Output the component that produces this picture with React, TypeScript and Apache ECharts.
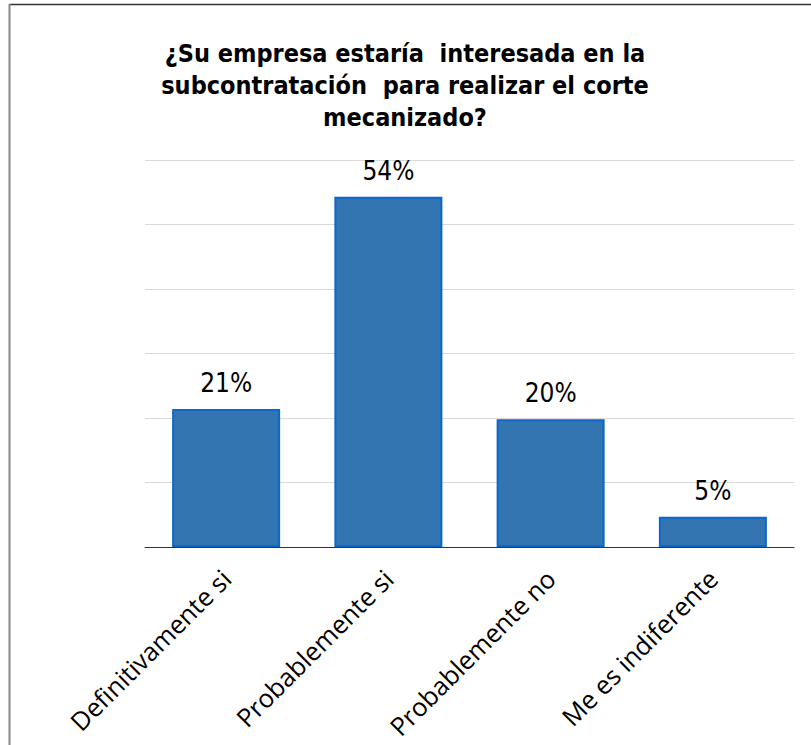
import React, { useEffect, useRef } from "react";
import * as echarts from "echarts";

const titleLines = [
  "¿Su empresa estaría  interesada en la",
  "subcontratación  para realizar el corte",
  "mecanizado?",
];
const categories = [
  "Definitivamente si",
  "Probablemente si",
  "Probablemente no",
  "Me es indiferente",
];
const values = [0.214, 0.543, 0.198, 0.047];
const yMin = 0;
const yMax = 0.6;
const yStep = 0.1;

export default function App() {
  const ref = useRef<HTMLDivElement>(null);
  useEffect(() => {
    if (!ref.current) return;
    const chart = echarts.init(ref.current, undefined, { renderer: "svg" });
    chart.setOption({
      animation: false,
      backgroundColor: "#ffffff",
      title: {
        text: titleLines.join("\n"),
        left: 400,
        top: 32,
        textAlign: "center",
        textStyle: {
          fontFamily: "DejaVu Sans Condensed",
          fontWeight: "bold",
          fontSize: 25,
          lineHeight: 32,
          color: "#000000",
        },
      },
      graphic: [
        {
          type: "line",
          shape: { x1: 9, y1: 4.5, x2: 811, y2: 4.5 },
          style: { stroke: "#333333", lineWidth: 1.5 },
        },
        {
          type: "line",
          shape: { x1: 9.5, y1: 4, x2: 9.5, y2: 745 },
          style: { stroke: "#888888", lineWidth: 2 },
        },
      ],
      grid: { left: 145, right: 17, top: 160, bottom: 198 },
      xAxis: {
        type: "category",
        data: categories,
        axisLine: { lineStyle: { color: "#333333", width: 1 } },
        axisTick: { length: 8, lineStyle: { color: "#333333" } },
        axisLabel: {
          rotate: 45,
          margin: 27,
          fontFamily: "Open Sans",
          fontSize: 25.5,
          color: "#000000",
          interval: 0,
        },
      },
      yAxis: {
        type: "value",
        min: yMin,
        max: yMax,
        interval: yStep,
        axisLine: { show: false },
        axisTick: { show: false },
        axisLabel: { show: false },
        splitLine: { lineStyle: { color: "#d9d9d9", width: 1 } },
      },
      series: [
        {
          type: "bar",
          data: values,
          barWidth: 108,
          itemStyle: {
            color: "#3375b0",
            borderColor: "#0c66cc",
            borderWidth: 2,
          },
          label: {
            show: true,
            position: "top",
            distance: 13,
            fontFamily: "DejaVu Sans Condensed",
            fontSize: 26,
            color: "#000000",
            formatter: (p: any) => Math.round(p.value * 100) + "%",
          },
        },
      ],
    });
    return () => chart.dispose();
  }, []);
  return (
    <div
      ref={ref}
      style={{ position: "fixed", left: 0, top: 0, width: 811, height: 745 }}
    />
  );
}
